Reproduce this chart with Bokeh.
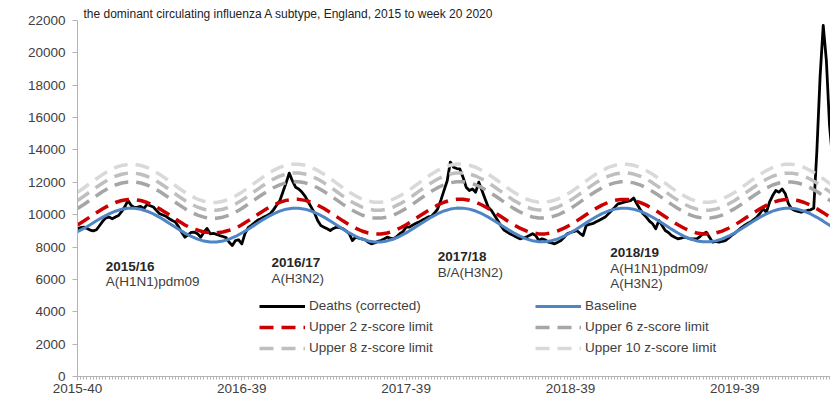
from math import pi
from bokeh.plotting import figure
from bokeh.models import Range1d, FixedTicker, Legend, LegendItem, Label, ColumnDataSource
from bokeh.core.properties import value
from bokeh.embed import file_html
from bokeh.resources import INLINE

# ---------------- data ----------------
weeks = list(range(242))  # week index from 2015-40 to 2020-20
deaths = [
    9130, 9200, 9230, 9150, 9050, 9000, 9070, 9330, 9600, 9810,
    9850, 9750, 9850, 9950, 10200, 10500, 10880, 10570, 10450, 10470,
    10510, 10370, 10630, 10550, 10470, 10260, 10060, 9980, 9900, 9750,
    9640, 9540, 9250, 8900, 8610, 8750, 8900, 8920, 8820, 8610,
    8920, 9150, 8820, 8850, 8780, 8710, 8650, 8580, 8300, 8090,
    8400, 8450, 8200, 8830, 9200, 9340, 9500, 9650, 9750, 9860,
    9950, 10060, 10300, 10580, 10850, 11400, 11950, 12570, 12100, 11700,
    11590, 11400, 11150, 10800, 10450, 10100, 9640, 9330, 9230, 9130,
    9020, 9150, 9230, 9200, 9130, 9000, 8820, 8400, 8610, 8550,
    8510, 8450, 8300, 8200, 8250, 8350, 8400, 8500, 8610, 8550,
    8500, 8650, 8820, 8950, 9230, 9230, 9350, 9450, 9540, 9650,
    9750, 9860, 9900, 10100, 10360, 10900, 11500, 12100, 13250, 12930,
    12850, 12830, 12320, 11700, 11490, 11590, 11390, 12010, 11490, 10970,
    10460, 10260, 9950, 9640, 9300, 9050, 8920, 8800, 8710, 8600,
    8510, 8560, 8610, 8720, 8820, 8710, 8400, 8510, 8450, 8300,
    8250, 8200, 8300, 8400, 8610, 8820, 8900, 8950, 9020, 8850,
    8710, 9330, 9400, 9440, 9550, 9640, 9750, 9850, 10050, 10260,
    10450, 10670, 10720, 10770, 10820, 10870, 11030, 10670, 10350, 10050,
    9850, 9600, 9440, 9130, 9640, 9330, 9020, 8900, 8710, 8600,
    8510, 8550, 8610, 8560, 8510, 8500, 8510, 8650, 8820, 8920,
    8610, 8300, 8350, 8300, 8350, 8400, 8550, 8720, 8850, 9020,
    9180, 9330, 9450, 9540, 9700, 9850, 10100, 10360, 10150, 10770,
    11180, 11490, 11390, 11590, 11290, 10670, 10360, 10260, 10200, 10150,
    10200, 10260, 10300, 10400, 14000, 18500, 21700, 19500, 15500, 13300,
    13000, 12950,
]

limit_weeks = list(range(0, 243, 2))  # model curves read every second week
baseline = [
    8950, 9150, 9380, 9620, 9850, 10050, 10214, 10332, 10392, 10392, 10332, 10214, 10046,
    9838, 9601, 9350, 9099, 8862, 8654, 8486, 8368, 8308, 8308, 8368, 8486, 8654,
    8865, 9102, 9354, 9606, 9844, 10053, 10222, 10341, 10402, 10402, 10342, 10224, 10056,
    9848, 9611, 9360, 9109, 8872, 8664, 8496, 8378, 8318, 8318, 8378, 8496, 8664,
    8874, 9111, 9363, 9615, 9852, 10060, 10228, 10346, 10406, 10405, 10344, 10226, 10058,
    9850, 9614, 9364, 9114, 8878, 8671, 8504, 8387, 8328, 8330, 8390, 8508, 8676,
    8884, 9120, 9370, 9620, 9855, 10061, 10227, 10343, 10401, 10399, 10338, 10219, 10050,
    9842, 9606, 9356, 9106, 8871, 8664, 8497, 8380, 8321, 8322, 8382, 8500, 8668,
    8876, 9112, 9362, 9612, 9848, 10054, 10220, 10336, 10394, 10392, 10331, 10212, 10044,
    9836, 9600, 9350, 9100, 8866,
]
upper2 = [
    9366, 9609, 9868, 10125, 10368, 10582, 10754, 10874, 10936, 10936, 10874, 10754, 10582,
    10368, 10125, 9868, 9609, 9366, 9154, 9050, 8930, 8880, 8880, 8930, 9040, 9154,
    9376, 9619, 9878, 10135, 10378, 10592, 10764, 10884, 10946, 10946, 10884, 10764, 10592,
    10378, 10135, 9878, 9619, 9376, 9164, 8990, 8870, 8808, 8808, 8870, 8990, 9164,
    9381, 9624, 9883, 10140, 10383, 10597, 10769, 10889, 10951, 10951, 10889, 10769, 10597,
    10383, 10140, 9883, 9624, 9381, 9169, 8995, 8875, 8813, 8813, 8875, 8995, 9169,
    9374, 9617, 9876, 10133, 10376, 10590, 10762, 10882, 10944, 10944, 10882, 10762, 10590,
    10376, 10133, 9876, 9617, 9374, 9162, 8988, 8868, 8806, 8806, 8868, 8988, 9162,
    9366, 9609, 9868, 10125, 10368, 10582, 10754, 10874, 10936, 10936, 10874, 10754, 10582,
    10368, 10125, 9868, 9609, 9366,
]
upper6 = [
    10374, 10629, 10904, 11173, 11428, 11654, 11834, 11958, 12024, 12024, 11958, 11834, 11654,
    11428, 11173, 10904, 10629, 10374, 10154, 9968, 9844, 9778, 9778, 9844, 9968, 10154,
    10384, 10639, 10914, 11183, 11438, 11664, 11844, 11968, 12034, 12034, 11968, 11844, 11664,
    11438, 11183, 10914, 10639, 10384, 10164, 9978, 9854, 9788, 9788, 9854, 9978, 10164,
    10389, 10644, 10919, 11188, 11443, 11669, 11849, 11973, 12039, 12039, 11973, 11849, 11669,
    11443, 11188, 10919, 10644, 10389, 10169, 9983, 9859, 9793, 9793, 9859, 9983, 10169,
    10382, 10637, 10912, 11181, 11436, 11662, 11842, 11966, 12032, 12032, 11966, 11842, 11662,
    11436, 11181, 10912, 10637, 10382, 10162, 9976, 9852, 9786, 9786, 9852, 9976, 10162,
    10374, 10629, 10904, 11173, 11428, 11654, 11834, 11958, 12024, 12024, 11958, 11834, 11654,
    11428, 11173, 10904, 10629, 10374,
]
upper8 = [
    10878, 11139, 11422, 11697, 11958, 12190, 12374, 12500, 12568, 12568, 12500, 12374, 12190,
    11958, 11697, 11422, 11139, 10878, 10654, 10462, 10336, 10268, 10268, 10336, 10462, 10654,
    10888, 11149, 11432, 11707, 11968, 12200, 12384, 12510, 12578, 12578, 12510, 12384, 12200,
    11968, 11707, 11432, 11149, 10888, 10664, 10472, 10346, 10278, 10278, 10346, 10472, 10664,
    10893, 11154, 11437, 11712, 11973, 12205, 12389, 12515, 12583, 12583, 12515, 12389, 12205,
    11973, 11712, 11437, 11154, 10893, 10669, 10477, 10351, 10283, 10283, 10351, 10477, 10669,
    10886, 11147, 11430, 11705, 11966, 12198, 12382, 12508, 12576, 12576, 12508, 12382, 12198,
    11966, 11705, 11430, 11147, 10886, 10662, 10470, 10344, 10276, 10276, 10344, 10470, 10662,
    10878, 11139, 11422, 11697, 11958, 12190, 12374, 12500, 12568, 12568, 12500, 12374, 12190,
    11958, 11697, 11422, 11139, 10878,
]
upper10 = [
    11382, 11649, 11940, 12221, 12488, 12726, 12914, 13042, 13112, 13112, 13042, 12914, 12726,
    12488, 12221, 11940, 11649, 11382, 11154, 10956, 10828, 10758, 10758, 10828, 10956, 11154,
    11392, 11659, 11950, 12231, 12498, 12736, 12924, 13052, 13122, 13122, 13052, 12924, 12736,
    12498, 12231, 11950, 11659, 11392, 11164, 10966, 10838, 10768, 10768, 10838, 10966, 11164,
    11397, 11664, 11955, 12236, 12503, 12741, 12929, 13057, 13127, 13127, 13057, 12929, 12741,
    12503, 12236, 11955, 11664, 11397, 11169, 10971, 10843, 10773, 10773, 10843, 10971, 11169,
    11390, 11657, 11948, 12229, 12496, 12734, 12922, 13050, 13120, 13120, 13050, 12922, 12734,
    12496, 12229, 11948, 11657, 11390, 11162, 10964, 10836, 10766, 10766, 10836, 10964, 11162,
    11382, 11649, 11940, 12221, 12488, 12726, 12914, 13042, 13112, 13112, 13042, 12914, 12726,
    12488, 12221, 11940, 11649, 11382,
]

x_tick_weeks = [0, 52, 104, 156, 208]
x_tick_labels = ["2015-40", "2016-39", "2017-39", "2018-39", "2019-39"]
y_ticks = [0, 2000, 4000, 6000, 8000, 10000, 12000, 14000, 16000, 18000, 20000, 22000]

season_labels = ["2015/16", "2016/17", "2017/18", "2018/19"]
subtype_labels = ["A(H1N1)pdm09", "A(H3N2)", "B/A(H3N2)", "A(H1N1)pdm09/", "A(H3N2)"]
series_names = ["Deaths (corrected)", "Baseline", "Upper 2 z-score limit",
                "Upper 6 z-score limit", "Upper 8 z-score limit", "Upper 10 z-score limit"]
title_text = "the dominant circulating influenza A subtype, England, 2015 to week 20 2020"

# ---------------- figure ----------------
FONT = "Liberation Sans"
TXT = "#404040"
DASH = "14 8"

p = figure(width=830, height=404, output_backend="svg", toolbar_location=None,
           title=title_text,
           x_range=Range1d(0, 238.3), y_range=Range1d(0, 22000),
           min_border_left=77, min_border_right=0, min_border_top=20, min_border_bottom=28)
p.outline_line_color = None
p.xgrid.visible = False
p.ygrid.visible = False

p.title.text_font = FONT
p.title.text_font_size = "12px"
p.title.text_font_style = "normal"
p.title.text_color = "#222222"
p.title.align = "left"
p.title.standoff = 0
p.title.offset = 6

r_d = p.line(weeks, deaths, line_color="black", line_width=2.8, line_join="round")
r_b = p.line(limit_weeks, baseline, line_color="#4e85c5", line_width=3)
r_2 = p.line(limit_weeks, upper2, line_color="#cc0000", line_width=3.5, line_dash=DASH)
r_6 = p.line(limit_weeks, upper6, line_color="#a6a6a6", line_width=3.5, line_dash=DASH)
r_8 = p.line(limit_weeks, upper8, line_color="#bfbfbf", line_width=3.5, line_dash=DASH)
r_10 = p.line(limit_weeks, upper10, line_color="#d9d9d9", line_width=3.5, line_dash=DASH)

# axes
for ax in (p.xaxis[0], p.yaxis[0]):
    ax.axis_line_color = "#b3b3b3"
    ax.major_tick_line_color = "#b3b3b3"
    ax.minor_tick_line_color = "#b3b3b3"
    ax.major_tick_in = 0
    ax.minor_tick_in = 0
    ax.major_label_text_font = FONT
    ax.major_label_text_font_size = "13.5px"
    ax.major_label_text_color = TXT

p.yaxis.ticker = FixedTicker(ticks=y_ticks)
p.yaxis.major_tick_out = 5
p.yaxis.minor_tick_out = 0
p.yaxis.major_label_standoff = 7

p.xaxis.ticker = FixedTicker(ticks=x_tick_weeks, minor_ticks=weeks)
p.xaxis.major_label_overrides = dict(zip(x_tick_weeks, x_tick_labels))
p.xaxis.major_tick_out = 4
p.xaxis.minor_tick_out = 3
p.xaxis.major_label_standoff = 3

# axis titles as labels (placed relative to the frame)
p.add_layout(Label(x=-63, y=187, x_units="screen", y_units="screen", text="Number of deaths",
                   angle=pi / 2, text_align="center", text_baseline="middle",
                   text_font=FONT, text_font_size="13.5px", text_font_style="bold",
                   text_color="#262626"))
p.add_layout(Label(x=390, y=-19, x_units="screen", y_units="screen", text="Year week",
                   text_align="center", text_baseline="middle",
                   text_font=FONT, text_font_size="13.5px", text_font_style="bold",
                   text_color="#262626"))

# season annotations
season_src = ColumnDataSource(dict(x=[8.96, 61.4, 114.0, 168.6],
                                   y=[6817, 7045, 7416, 7663],
                                   t=season_labels))
p.text(x="x", y="y", text="t", source=season_src, text_font=value(FONT),
       text_font_size="13.5px", text_font_style="bold", text_color="#262626",
       text_align="left", text_baseline="alphabetic")
sub_src = ColumnDataSource(dict(x=[8.96, 61.4, 114.0, 168.6, 168.6],
                                y=[5840, 6070, 6440, 6700, 5720],
                                t=subtype_labels))
p.text(x="x", y="y", text="t", source=sub_src, text_font=value(FONT),
       text_font_size="13.5px", text_color=TXT,
       text_align="left", text_baseline="alphabetic")

# legends (two columns)
def make_legend(items, loc):
    lg = Legend(items=items, location=loc, orientation="vertical")
    lg.glyph_width = 46
    lg.glyph_height = 18
    lg.label_height = 18
    lg.spacing = 3
    lg.label_standoff = 4
    lg.padding = 0
    lg.margin = 0
    lg.border_line_color = None
    lg.background_fill_alpha = 0
    lg.label_text_font = FONT
    lg.label_text_font_size = "13.5px"
    lg.label_text_color = TXT
    return lg

p.add_layout(make_legend([LegendItem(label=series_names[0], renderers=[r_d]),
                          LegendItem(label=series_names[2], renderers=[r_2]),
                          LegendItem(label=series_names[4], renderers=[r_8])], (182, 19.5)))
p.add_layout(make_legend([LegendItem(label=series_names[1], renderers=[r_b]),
                          LegendItem(label=series_names[3], renderers=[r_6]),
                          LegendItem(label=series_names[5], renderers=[r_10])], (458, 19.5)))

open("out.html", "w").write(file_html(p, INLINE))
